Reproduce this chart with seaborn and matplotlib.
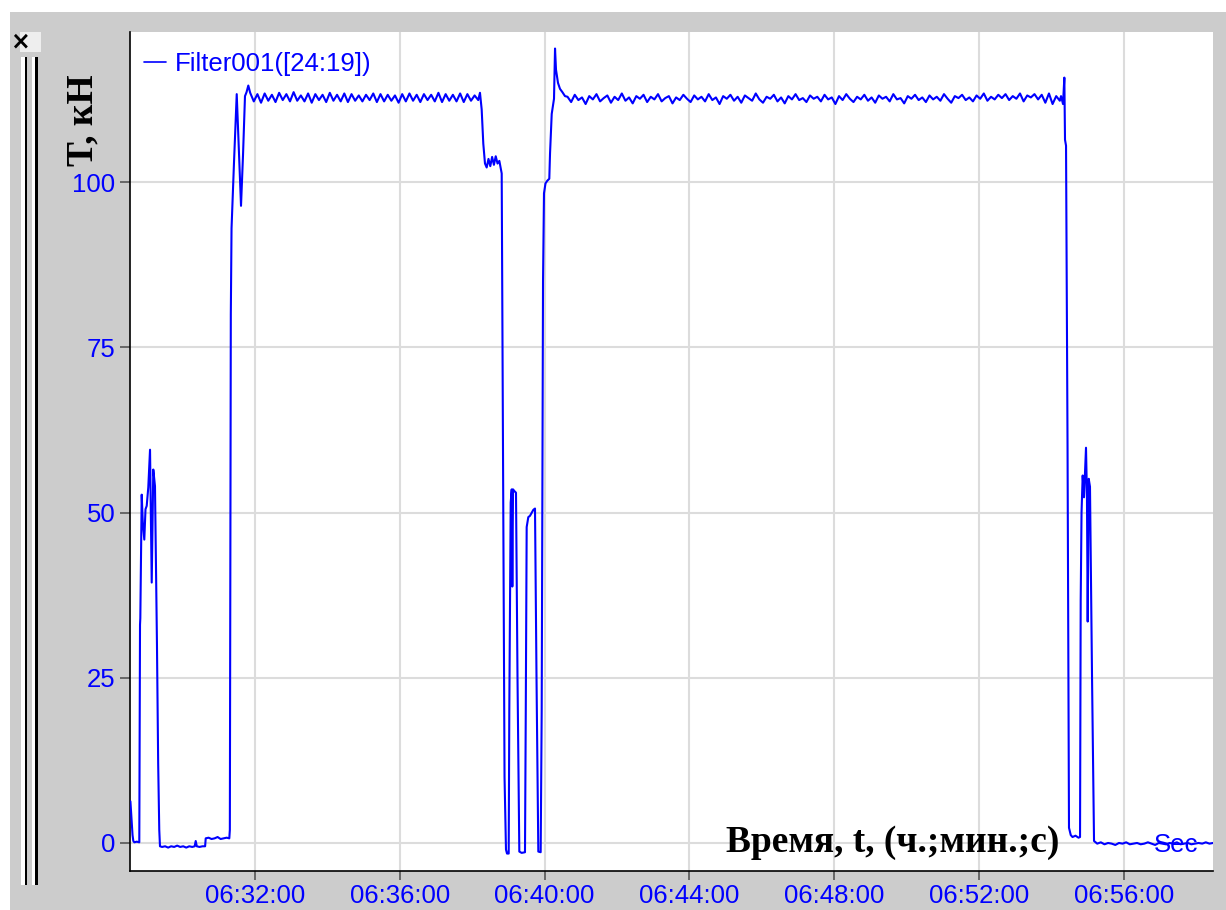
# Filter001 load trace, T (kN) vs time

import numpy as np
import pandas as pd
import matplotlib
matplotlib.use("Agg")
import matplotlib.pyplot as plt
import matplotlib.dates as mdates
from matplotlib.patches import Rectangle
import seaborn as sns

sns.set_style("whitegrid")
plt.rcParams['font.family'] = ['Liberation Sans', 'DejaVu Sans']

BLUE = "#0000ff"
series_name = "Filter001([24:19])"
start_clock = "2000-01-01 06:28:00"

# --- data: seconds after 06:28:00 and load in kN ---
# start-up burst
burst_t = [33.5, 35, 37, 38.3, 40, 44, 48.2, 49.4, 49.9, 52.2, 54, 56.5, 58.5,
           60.5, 63.1, 66, 68.8, 71.4, 74.2, 77.5, 79.5, 81.3, 82.5]
burst_v = [6.3, 4.0, 1.2, 0.3, 0.1, 0.2, 0.1, 33, 34, 52.7, 48.5, 45.9, 50.5,
           51, 53.8, 59.5, 39.4, 56.5, 54, 30, 12, 2, -0.5]

# idle before loading
idle_t = [86, 91, 96, 101, 106, 111, 116, 121, 126, 131, 136, 140, 141.7, 143.5,
          148, 153, 157.3, 158.3, 163, 168, 173, 178, 183, 188, 193, 197.4]
idle_v = [-0.6, -0.5, -0.7, -0.5, -0.6, -0.4, -0.6, -0.5, -0.7, -0.5, -0.6, -0.5,
          0.3, -0.5, -0.6, -0.5, -0.5, 0.7, 0.8, 0.6, 0.7, 0.9, 0.6, 0.7, 0.8, 0.7]

# ramp up to first plateau
rise_t = [198.3, 199.9, 201.1, 205.2, 209.7, 211.9, 216.8, 220.1, 223.4, 226, 228.9]
rise_v = [2, 80, 93, 103, 113.3, 108, 96.4, 104, 113, 113.6, 114.6]

# first plateau, sampled every 6 s from 232 s
plateau1_start, plateau1_step = 232, 6
plateau1_v = [113.5, 112.2, 113.3, 112.0, 113.4, 112.3, 113.2, 112.1, 113.5, 112.4,
              113.3, 112.2, 113.6, 112.3, 113.1, 112.2, 113.4, 112.0, 113.3, 112.4,
              113.2, 112.1, 113.5, 112.3, 113.2, 112.2, 113.4, 112.1, 113.3, 112.3,
              113.1, 112.2, 113.2, 112.4, 113.4, 112.1, 113.3, 112.2, 113.2, 112.3,
              113.1, 112.0, 113.3, 112.2, 113.4, 112.3, 113.2, 112.1, 113.3, 112.4,
              113.2, 112.2, 113.5, 112.1, 113.3, 112.3, 113.2, 112.2, 113.4, 112.1,
              113.3, 112.3, 113.1, 112.4]

# three unloading dips around 06:39
dips_t = [612.9, 615.7, 618.4, 621.2, 624, 627, 630, 633, 636, 639, 642, 645, 648.9,
          651.1, 653.6, 656, 657.7, 660.5, 661.5, 663.8, 665.5, 666.5, 667.7, 669.3,
          672.6, 675.1, 678.1, 682, 687.5, 688.8, 690.3, 693, 695.8, 701.3, 704.1,
          706.6, 709.6, 713.5, 715.2, 717.4, 719, 721.5, 724.5, 727.8, 729, 731.8,
          735.6, 737.3, 738.9, 742.2, 745.5, 749.5, 753.8]
dips_v = [113.5, 111, 105.8, 102.8, 102.2, 103.5, 102.4, 103.8, 102.6, 103.9, 102.8,
          103.2, 101.3, 60, 10, -1.0, -1.6, -1.6, 20, 51.5, 53.5, 38.8, 53.5, 53.3,
          53, 25, -1.3, -1.5, -1.4, 20, 47.8, 49.3, 49.5, 50.4, 50.6, 25, -1.3, -1.4,
          20, 85, 98.3, 99.8, 100.2, 100.5, 104.3, 110.3, 112.6, 120.2, 117, 115,
          114.1, 113.6, 113]

# second plateau, sampled every 6 s from 758 s
plateau2_start, plateau2_step = 758, 6
plateau2_v = [112.9, 112.1, 113.2, 112.4, 112.8, 111.8, 113.0, 112.5, 113.3, 112.2,
              112.7, 113.1, 112.0, 112.9, 112.4, 113.4, 112.3, 112.8, 111.9, 113.0,
              112.6, 113.2, 112.1, 112.9, 112.5, 113.3, 112.2, 112.7, 113.0, 111.9,
              112.8, 112.4, 113.2, 112.6, 112.1, 113.1, 112.5, 112.9, 112.2, 113.3,
              112.4, 112.8, 111.8, 113.0, 112.6, 113.2, 112.3, 112.9, 112.0, 113.1,
              112.7, 112.3, 113.4, 112.5, 112.0, 112.9, 112.6, 113.2, 112.2, 112.8,
              111.9, 113.0, 112.5, 113.3, 112.4, 112.7, 112.1, 113.1, 112.6, 112.9,
              112.2, 113.2, 112.5, 112.8, 111.8, 113.0, 112.4, 113.3, 112.6, 112.1,
              112.9, 112.5, 113.2, 112.3, 112.8, 112.0, 113.1, 112.6, 112.9, 112.2,
              113.3, 112.5, 112.7, 111.9, 113.0, 112.6, 113.2, 112.4, 112.8, 112.1,
              113.1, 112.5, 112.9, 112.3, 113.3, 112.6, 112.0, 113.0, 112.7, 113.2,
              112.4, 112.8, 112.2, 113.1, 112.6, 113.4, 112.3, 112.9, 112.5, 113.2,
              112.7, 113.3, 112.4, 113.0, 112.6, 113.4, 112.2, 113.1, 112.8, 113.3,
              112.5, 113.2, 112.0, 113.4, 111.8, 113.0, 112.3]

# final unloading around 06:54
drop_t = [1576, 1579.3, 1581.5, 1582.6, 1584.3, 1586.8, 1589.2, 1592.1, 1595, 1600,
          1605, 1607.5, 1608.6, 1610, 1611.9, 1614.1, 1617.4, 1619, 1620.2, 1621.9,
          1624, 1627.4, 1630.7]
drop_v = [113.0, 111.8, 115.8, 106.4, 105.5, 60, 2.3, 1.2, 0.9, 1.1, 0.8, 0.9, 36.7,
          50, 55.6, 52.3, 59.8, 52.3, 33.5, 55.1, 53.9, 25, 0.3]

# idle after unloading, sampled every 6 s from 1636 s
tail_start, tail_step = 1636, 6
tail_v = [-0.1, 0.1, -0.2, 0.0, -0.1, -0.3, 0.0, -0.1, 0.1, -0.2, -0.1, 0.0, -0.2,
          -0.1, 0.1, -0.1, -0.3, 0.0, -0.1, -0.2, 0.0, -0.1, 0.1, -0.2, -0.1, 0.0,
          -0.2, -0.1, 0.0, -0.1, 0.1, -0.1, 0.0]

y_ticks = [0, 25, 50, 75, 100]
x_tick_labels = ["06:32:00", "06:36:00", "06:40:00", "06:44:00",
                 "06:48:00", "06:52:00", "06:56:00"]
x_range = ("2000-01-01 06:28:32.8", "2000-01-01 06:58:27.9")
y_range = (-4.24, 122.7)


def sampled(start, step, values):
    return list(start + step * np.arange(len(values)))


secs = (burst_t + idle_t + rise_t
        + sampled(plateau1_start, plateau1_step, plateau1_v)
        + dips_t
        + sampled(plateau2_start, plateau2_step, plateau2_v)
        + drop_t
        + sampled(tail_start, tail_step, tail_v))
vals = (burst_v + idle_v + rise_v + plateau1_v + dips_v + plateau2_v
        + drop_v + tail_v)

df = pd.DataFrame({
    "time": pd.Timestamp(start_clock) + pd.to_timedelta(secs, unit="s"),
    "load": vals,
})

# --- figure ---
fig = plt.figure(figsize=(12.26, 9.10), dpi=100)
fig.patch.set_facecolor("white")
W, H = 1226, 910


def px_rect(x0, y0, x1, y1, color):
    # pixel box (top-left origin) -> figure rectangle, kept behind the axes
    fig.patches.append(Rectangle((x0 / W, 1 - y1 / H), (x1 - x0) / W, (y1 - y0) / H,
                                 transform=fig.transFigure, facecolor=color,
                                 edgecolor="none", zorder=-5))


px_rect(10, 12, 1226, 910, "#cccccc")
px_rect(20, 32, 41, 52, "#eeeeee")
px_rect(21, 57, 25, 885, "white")
px_rect(25, 57, 26.5, 885, "black")
px_rect(31.5, 57, 34.5, 885, "white")
px_rect(34.5, 57, 37.5, 885, "black")
fig.text(20 / W, 1 - 42 / H, "×", fontsize=17, fontweight="bold", color="black",
         ha="center", va="center", family="DejaVu Sans")

ax = fig.add_axes([130 / W, 39 / H, 1083 / W, 839 / H])
ax.set_zorder(1)
ax.set_facecolor("white")

sns.lineplot(data=df, x="time", y="load", ax=ax, color=BLUE, lw=1.5,
             estimator=None, sort=True, label=series_name, zorder=3)

ax.set_xlim(pd.Timestamp(x_range[0]), pd.Timestamp(x_range[1]))
ax.set_ylim(*y_range)
ax.set_yticks(y_ticks)
ax.set_xticks([pd.Timestamp("2000-01-01 " + s) for s in x_tick_labels])
ax.xaxis.set_major_formatter(mdates.DateFormatter("%H:%M:%S"))

ax.grid(True, color="#dcdcdc", lw=1.5)
ax.set_axisbelow(True)
for side in ["top", "right"]:
    ax.spines[side].set_visible(False)
for side in ["left", "bottom"]:
    ax.spines[side].set_color("black")
    ax.spines[side].set_linewidth(1.2)

ax.tick_params(axis="y", length=7, width=1.2, color="#555555", labelcolor=BLUE,
               labelsize=18.5, pad=3.6, left=True)
ax.tick_params(axis="x", length=6.5, width=1.2, color="#555555", labelcolor=BLUE,
               labelsize=18.5, pad=3.2, bottom=True)
ax.set_xlabel("")
ax.set_ylabel("")

leg = ax.legend(loc="upper left", bbox_to_anchor=(0.0129, 0.976), frameon=False,
                fontsize=18.5, handlelength=0.85, handletextpad=0.35, borderpad=0,
                borderaxespad=0, labelcolor=BLUE)
for h in leg.get_lines():
    h.set_linewidth(1.2)

# unit label under the trace, and the axis titles
ax.text(0.9658, 0.031, "Sec", transform=ax.transAxes, color=BLUE, fontsize=18.5,
        ha="center", va="center", zorder=1)
ax.text(0.704, 0.0226, "Время, t, (ч.;мин.;с)", transform=ax.transAxes,
        family="Liberation Serif", fontweight="bold", fontsize=27, color="black",
        ha="center", va="baseline", zorder=4)
fig.text(83 / W, 1 - 120 / H, "T, кН", rotation=90, family="Liberation Serif",
         fontweight="bold", fontsize=27, color="black", ha="center", va="center")

fig.savefig("out.png", dpi=100)
